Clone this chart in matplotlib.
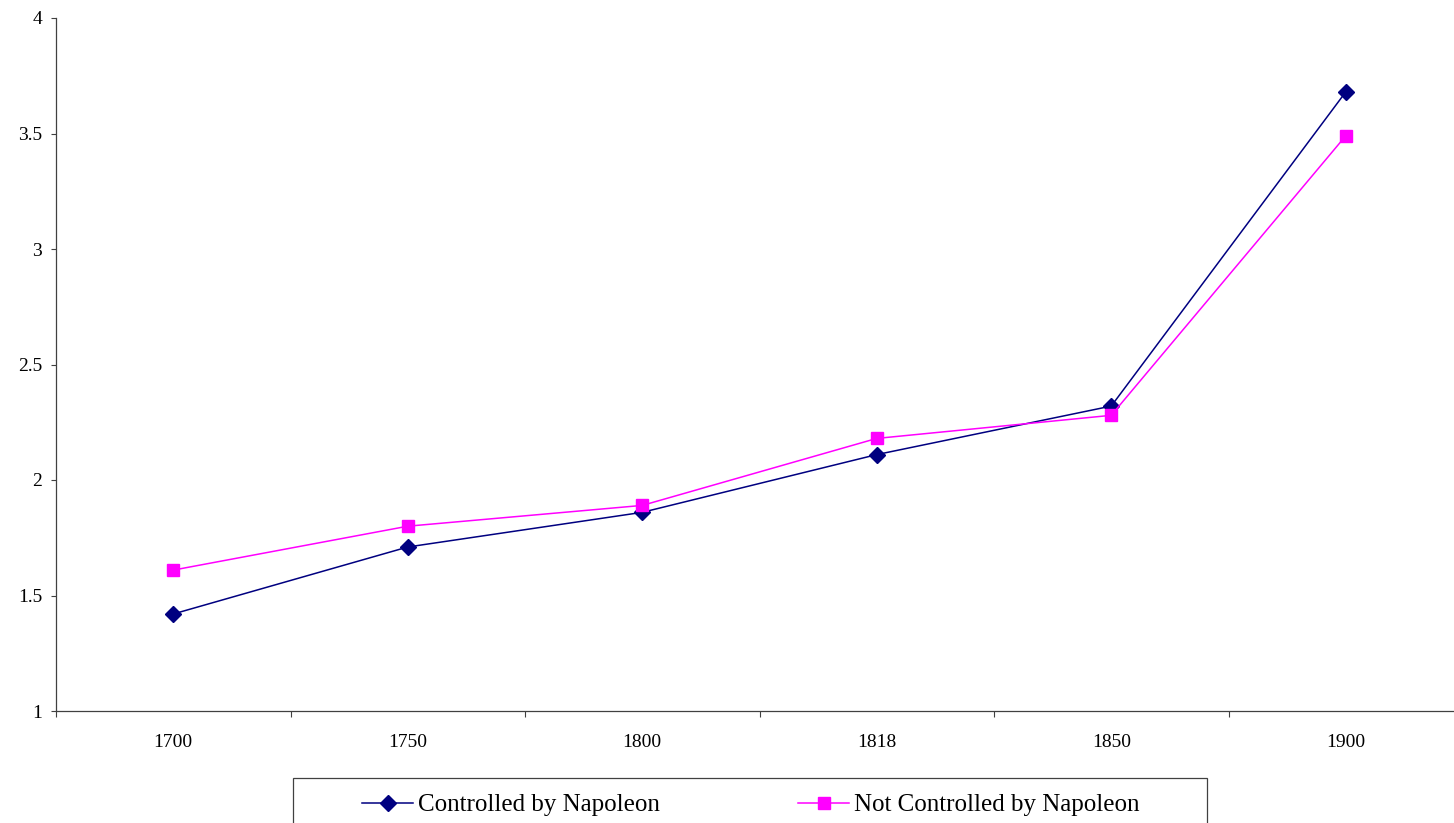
import matplotlib
matplotlib.use("Agg")
import matplotlib.pyplot as plt
from matplotlib.patches import Rectangle
from matplotlib.ticker import FixedLocator, NullFormatter

years = ["1700", "1750", "1800", "1818", "1850", "1900"]
controlled = [1.42, 1.71, 1.86, 2.11, 2.32, 3.68]
not_controlled = [1.61, 1.80, 1.89, 2.18, 2.28, 3.49]
yticks = [1, 1.5, 2, 2.5, 3, 3.5, 4]
ytick_labels = ["1", "1.5", "2", "2.5", "3", "3.5", "4"]

W, H = 1454, 823
plt.rcParams['font.family'] = ['Liberation Serif', 'DejaVu Serif']
fig = plt.figure(figsize=(W / 100, H / 100), dpi=100)

left, right, top, bottom = 56, 56 + 6 * 234.5, 18, 711
ax = fig.add_axes([left / W, 1 - bottom / H, (right - left) / W, (bottom - top) / H])

x = list(range(len(years)))
ax.plot(x, controlled, color="#000080", lw=1.1, marker="D", ms=8.3,
        label="Controlled by Napoleon", clip_on=False)
ax.plot(x, not_controlled, color="#FF00FF", lw=1.1, marker="s", ms=8.3,
        label="Not Controlled by Napoleon", clip_on=False)

ax.set_xlim(-0.5, len(years) - 0.5)
ax.set_ylim(1, 4)
ax.set_xticks(x)
ax.set_xticklabels(years, fontsize=14)
ax.xaxis.set_minor_locator(FixedLocator([i - 0.5 for i in range(len(years) + 1)]))
ax.xaxis.set_minor_formatter(NullFormatter())
ax.tick_params(axis='x', which='major', length=0, pad=16.5)
ax.tick_params(axis='x', which='minor', length=4.5, width=0.8, direction='out', color='#404040')
ax.set_yticks(yticks)
ax.set_yticklabels(ytick_labels, fontsize=14)
ax.tick_params(axis='y', length=3.6, width=0.8, direction='out', pad=6.5, color='#404040')

for s in ['top', 'right']:
    ax.spines[s].set_visible(False)
for s in ['left', 'bottom']:
    ax.spines[s].set_color('#404040')
    ax.spines[s].set_linewidth(0.9)

fs = 18
px = fs / 72 * 100
leg = ax.legend(loc='center', bbox_to_anchor=(751 / W, 1 - 805 / H),
                bbox_transform=fig.transFigure, ncol=2, frameon=False,
                fontsize=fs, handlelength=51 / px, handletextpad=5 / px,
                columnspacing=138 / px, borderpad=0, markerscale=1.0)

fig.patches.append(Rectangle((293 / W, 1 - 830 / H), (1207 - 293) / W, (830 - 778) / H,
                             transform=fig.transFigure, fill=False,
                             edgecolor='#404040', linewidth=0.9))

fig.savefig("out.png", dpi=100)
